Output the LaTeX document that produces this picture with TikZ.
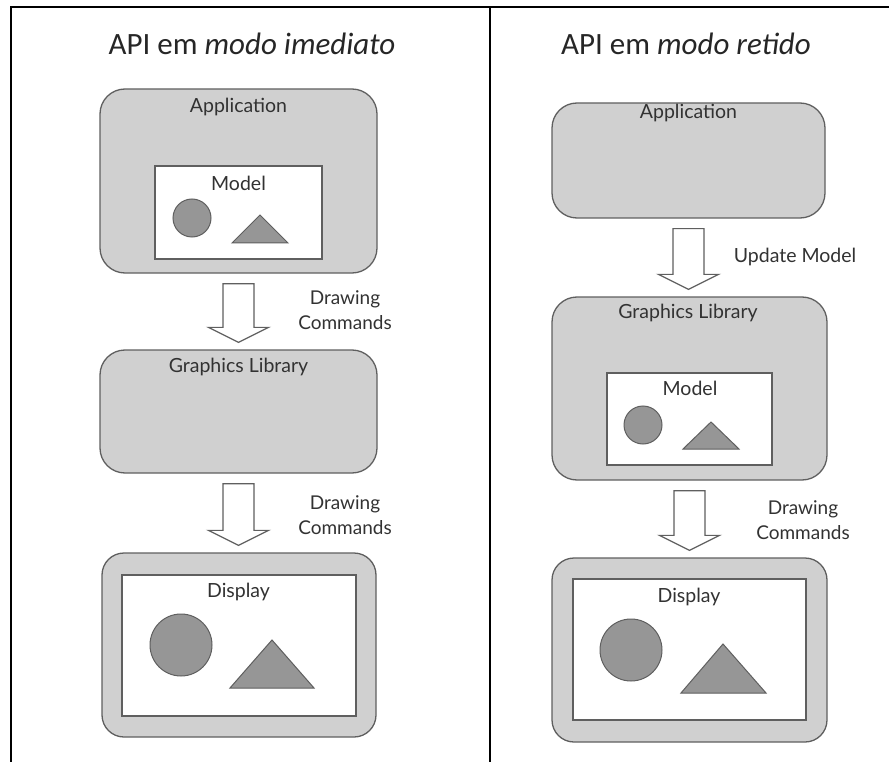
\documentclass[tikz,border=0pt]{standalone}
\usepackage{fontspec}
\setmainfont{Lato}
\newfontfamily\titlefont{Carlito}
\usetikzlibrary{calc}
\definecolor{boxfill}{RGB}{208,208,208}
\definecolor{shapefill}{RGB}{150,150,150}
\definecolor{edge}{RGB}{95,95,95}
\definecolor{txt}{RGB}{50,50,50}
\tikzset{
  panel/.style={draw=edge, line width=1.3pt, fill=boxfill, rounded corners=25pt, inner sep=0pt},
  inner/.style={draw=edge, line width=1.3pt, fill=white, inner sep=0pt},
  lbl/.style={text=txt, font=\fontsize{19.5}{23}\selectfont, inner sep=0pt},
  cmd/.style={text=txt, font=\fontsize{19}{25}\selectfont, align=center, inner sep=0pt},
  ttl/.style={text=black!85, font=\titlefont\fontsize{31}{36}\selectfont, inner sep=0pt},
  blob/.style={draw=edge, line width=1pt, fill=shapefill},
  blockarrow/.style={draw=edge, line width=1.2pt, fill=white, line join=miter},
  rule/.style={draw=black, line width=1.5pt}
}
\newcommand\hollowarrow[2]{%
  \coordinate (ha1) at ($(#1.south)+(0,10)$);
  \coordinate (hat) at ($(ha1 |- #2.north)+(0,-7)$);
  \coordinate (hah) at ($(hat)+(0,-15)$);
  \draw[blockarrow] ($(ha1)+(-15.5,0)$) -- ($(ha1)+(15.5,0)$) -- ($(hah)+(15.5,0)$)
    -- ($(hah)+(30,0)$) -- (hat) -- ($(hah)+(-30,0)$) -- ($(hah)+(-15.5,0)$) -- cycle;
}
\begin{document}
\begin{tikzpicture}[x=1pt,y=-1pt]
\useasboundingbox (0,0) rectangle (889,762);
% table rules
\coordinate (tl) at (11,7);
\coordinate (tr) at (889,7);
\coordinate (bl) at (11,762);
\coordinate (tm) at (490,7);
\coordinate (bm) at (490,762);
\draw[rule] (tr) -- (tl) -- (bl);
\draw[rule] (tm) -- (bm);

% ---------- left column ----------
\node[ttl] (t1) at (252,44) {API em \textit{modo imediato}};

\node[panel, minimum width=277pt, minimum height=184pt] (appL) at (238.5,181) {};
\node[lbl] (appLt) at (238.5,107) {Application};
\node[inner, minimum width=167pt, minimum height=93pt] (modL) at (238.5,212.5) {};
\node[lbl] (modLt) at (238.5,183) {Model};
\node[blob, circle, minimum size=38pt, inner sep=0pt] (cL1) at (192,218) {};
\draw[blob] (232,243) -- (260,215) -- (288,243) -- cycle;

\node[panel, minimum width=277pt, minimum height=123pt] (glL) at (238.5,411.5) {};
\node[lbl] (glLt) at (238.5,367) {Graphics Library};

\node[panel, rounded corners=22pt, minimum width=274pt, minimum height=184pt] (dispL) at (239,645) {};
\node[inner, minimum width=234pt, minimum height=141pt] (dispLi) at (239,645.5) {};
\node[lbl] (dispLt) at (238.5,592) {Display};
\node[blob, circle, minimum size=62pt, inner sep=0pt] (cL2) at (181,645) {};
\draw[blob] (230,688) -- (272,640) -- (314,688) -- cycle;

\hollowarrow{appL}{glL}
\node[cmd] (c1) at (345,310.5) {Drawing\\Commands};
\hollowarrow{glL}{dispL}
\node[cmd] (c2) at (345,515) {Drawing\\Commands};

% ---------- right column ----------
\node[ttl] (t2) at (686,44) {API em \textit{modo retido}};

\node[panel, minimum width=273pt, minimum height=115pt] (appR) at (688.5,160.5) {};
\node[lbl] (appRt) at (688.5,113) {Application};

\node[panel, minimum width=275pt, minimum height=183pt] (glR) at (689.5,388.5) {};
\node[lbl] (glRt) at (688,313) {Graphics Library};
\node[inner, minimum width=165pt, minimum height=92pt] (modR) at (689.5,419) {};
\node[lbl] (modRt) at (690,388) {Model};
\node[blob, circle, minimum size=38pt, inner sep=0pt] (cR1) at (643,425) {};
\draw[blob] (683,449) -- (711,422) -- (739,449) -- cycle;

\node[panel, rounded corners=22pt, minimum width=275pt, minimum height=184pt] (dispR) at (689.5,650) {};
\node[inner, minimum width=233pt, minimum height=141pt] (dispRi) at (689.5,649.5) {};
\node[lbl] (dispRt) at (689,597) {Display};
\node[blob, circle, minimum size=62pt, inner sep=0pt] (cR2) at (631,650) {};
\draw[blob] (681,693) -- (723,644) -- (766,693) -- cycle;

\hollowarrow{appR}{glR}
\node[lbl] (um) at (795,257) {Update Model};
\hollowarrow{glR}{dispR}
\node[cmd] (c3) at (803,520) {Drawing\\Commands};
\end{tikzpicture}
\end{document}
